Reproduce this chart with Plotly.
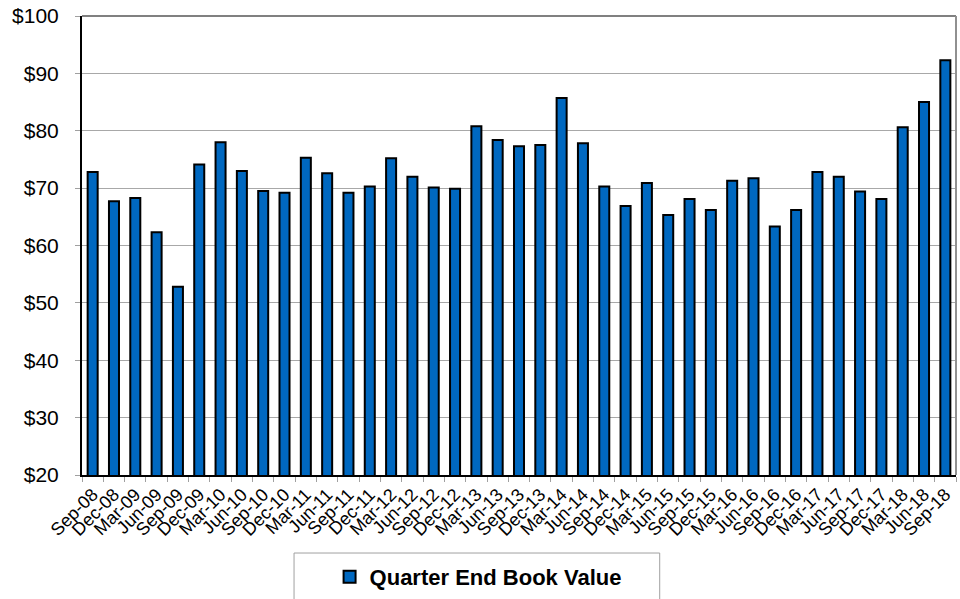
import plotly.graph_objects as go

quarters = ["Sep-08", "Dec-08", "Mar-09", "Jun-09", "Sep-09", "Dec-09", "Mar-10", "Jun-10",
            "Sep-10", "Dec-10", "Mar-11", "Jun-11", "Sep-11", "Dec-11", "Mar-12", "Jun-12",
            "Sep-12", "Dec-12", "Mar-13", "Jun-13", "Sep-13", "Dec-13", "Mar-14", "Jun-14",
            "Sep-14", "Dec-14", "Mar-15", "Jun-15", "Sep-15", "Dec-15", "Mar-16", "Jun-16",
            "Sep-16", "Dec-16", "Mar-17", "Jun-17", "Sep-17", "Dec-17", "Mar-18", "Jun-18",
            "Sep-18"]
book_value = [72.8, 67.7, 68.3, 62.3, 52.8, 74.1, 78.0, 73.0,
              69.5, 69.2, 75.3, 72.6, 69.2, 70.3, 75.2, 72.0,
              70.1, 69.9, 80.8, 78.4, 77.3, 77.5, 85.7, 77.8,
              70.3, 66.9, 70.9, 65.3, 68.1, 66.2, 71.3, 71.7,
              63.3, 66.2, 72.8, 72.0, 69.4, 68.1, 80.6, 85.0,
              92.3]
y_ticks = [20, 30, 40, 50, 60, 70, 80, 90, 100]
y_labels = ["$" + str(v) for v in y_ticks]
series_name = "Quarter End Book Value"

fig = go.Figure()
fig.add_trace(go.Bar(
    x=quarters, y=book_value, name=series_name,
    marker=dict(color="#0068C0", line=dict(color="#000000", width=2)),
    width=0.47, showlegend=True,
))

fig.update_layout(
    width=960, height=599,
    margin=dict(l=82, r=4, t=16, b=124, autoexpand=False),
    paper_bgcolor="white", plot_bgcolor="white",
    font=dict(family="Liberation Sans, Arial, sans-serif", color="#000000"),
    showlegend=True,
    legend=dict(orientation="h", xref="container", yref="container",
                x=0.498, y=0.0367, xanchor="center", yanchor="middle",
                font=dict(size=22, family="Liberation Sans, Arial, sans-serif", weight="bold"),
                bgcolor="rgba(0,0,0,0)", borderwidth=0),
    shapes=[
        dict(type="rect", xref="paper", yref="paper", x0=0.2426, x1=0.661, y0=-0.30, y1=-0.170,
             line=dict(color="#A0A0A0", width=1), fillcolor="rgba(0,0,0,0)", layer="below"),
        dict(type="line", xref="paper", yref="paper", x0=0, x1=1, y0=1, y1=1,
             line=dict(color="#808080", width=2)),
        dict(type="line", xref="paper", yref="paper", x0=1, x1=1, y0=0, y1=1,
             line=dict(color="#909090", width=2)),
    ],
)

fig.update_xaxes(
    type="category", tickangle=-45, tickfont=dict(size=18), automargin=False,
    tickmode="array", tickvals=quarters, ticktext=quarters,
    showline=True, linecolor="#000000", linewidth=2,
    ticks="outside", tickson="boundaries", ticklen=5, tickcolor="#A0A0A0",
    showgrid=False, range=[-0.5, len(quarters) - 0.5],
)
fig.update_yaxes(
    range=[20, 100], tickvals=y_ticks, ticktext=y_labels, tickfont=dict(size=21),
    automargin=False, ticklabelstandoff=12, ticklabeloverflow="allow",
    showline=True, linecolor="#000000", linewidth=2,
    ticks="outside", ticklen=5, tickcolor="#A0A0A0",
    showgrid=True, gridcolor="#A8A8A8", gridwidth=1, zeroline=False,
)

fig.write_html("out.html", config={"displayModeBar": False},
               post_script="document.body.style.margin='0';")
